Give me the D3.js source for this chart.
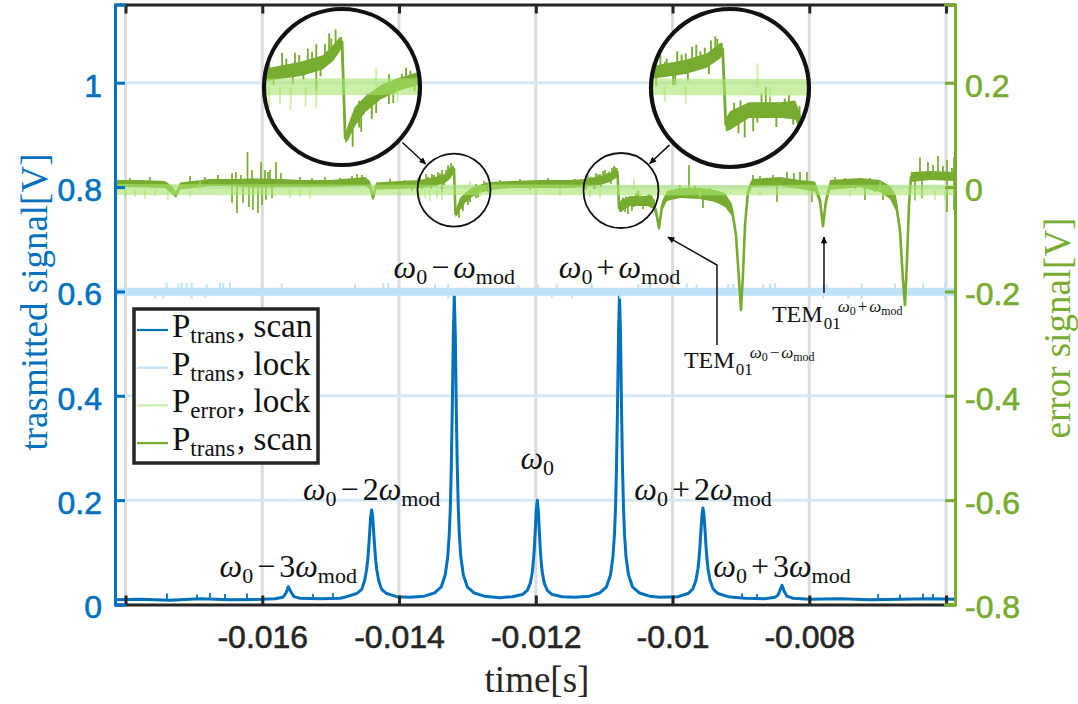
<!DOCTYPE html>
<html>
<head>
<meta charset="utf-8">
<script src="https://cdn.jsdelivr.net/npm/d3@7"></script>
<style>
  body { margin: 0; background: #fff; }
  svg { display: block; }
</style>
</head>
<body>
<svg id="chart" width="1078" height="704"></svg>
<script>
// ---------------- axis ticks ----------------
const timeRange = [-0.018154, -0.005869];
const transRange = [0, 1.15];
const errorRange = [-0.8, 0.35];
const xTicks = [-0.018, -0.016, -0.014, -0.012, -0.010, -0.008, -0.006];
const xTickLabels = ["", "-0.016", "-0.014", "-0.012", "-0.01", "-0.008", ""];
const yLeftTicks = [0, 0.2, 0.4, 0.6, 0.8, 1];
const yLeftTickLabels = ["0", "0.2", "0.4", "0.6", "0.8", "1"];
const yRightTicks = [-0.8, -0.6, -0.4, -0.2, 0, 0.2];
const yRightTickLabels = ["-0.8", "-0.6", "-0.4", "-0.2", "0", "0.2"];

// ---------------- transmitted signal while scanning [time s, V] ----------------
const transScan = [
  [-0.018154,0.009],[-0.017789,0.010],[-0.017350,0.008],[-0.016911,0.011],[-0.016472,0.009],
  [-0.016004,0.010],[-0.015814,0.011],[-0.015697,0.014],[-0.015653,0.022],[-0.015620,0.034],
  [-0.015580,0.024],[-0.015536,0.015],[-0.015449,0.012],[-0.015156,0.011],[-0.014864,0.012],
  [-0.014766,0.015],[-0.014619,0.021],[-0.014546,0.029],[-0.014502,0.046],[-0.014473,0.068],
  [-0.014458,0.085],[-0.014444,0.109],[-0.014429,0.139],[-0.014415,0.168],[-0.014400,0.181],
  [-0.014385,0.168],[-0.014371,0.139],[-0.014356,0.109],[-0.014341,0.085],[-0.014327,0.068],
  [-0.014298,0.046],[-0.014254,0.029],[-0.014181,0.021],[-0.014034,0.015],[-0.013840,0.014],
  [-0.013631,0.016],[-0.013484,0.022],[-0.013382,0.034],[-0.013324,0.057],[-0.013287,0.092],
  [-0.013265,0.136],[-0.013250,0.184],[-0.013236,0.262],[-0.013221,0.376],[-0.013206,0.517],
  [-0.013192,0.591],[-0.013177,0.517],[-0.013163,0.376],[-0.013148,0.262],[-0.013133,0.184],
  [-0.013119,0.136],[-0.013097,0.092],[-0.013060,0.057],[-0.013002,0.034],[-0.012899,0.022],
  [-0.012753,0.016],[-0.012524,0.013],[-0.012344,0.015],[-0.012197,0.019],[-0.012124,0.027],
  [-0.012080,0.041],[-0.012051,0.062],[-0.012037,0.080],[-0.012022,0.106],[-0.012007,0.142],
  [-0.011993,0.181],[-0.011978,0.200],[-0.011963,0.181],[-0.011949,0.142],[-0.011934,0.106],
  [-0.011920,0.080],[-0.011905,0.062],[-0.011876,0.041],[-0.011832,0.027],[-0.011759,0.019],
  [-0.011612,0.015],[-0.011427,0.014],[-0.011215,0.016],[-0.011068,0.022],[-0.010966,0.034],
  [-0.010907,0.057],[-0.010871,0.092],[-0.010849,0.136],[-0.010834,0.184],[-0.010820,0.262],
  [-0.010805,0.376],[-0.010790,0.517],[-0.010776,0.592],[-0.010761,0.517],[-0.010746,0.376],
  [-0.010732,0.262],[-0.010717,0.184],[-0.010703,0.136],[-0.010681,0.092],[-0.010644,0.057],
  [-0.010586,0.034],[-0.010483,0.022],[-0.010337,0.016],[-0.010184,0.014],[-0.009920,0.015],
  [-0.009774,0.021],[-0.009701,0.030],[-0.009657,0.047],[-0.009628,0.069],[-0.009613,0.087],
  [-0.009599,0.112],[-0.009584,0.142],[-0.009569,0.172],[-0.009555,0.185],[-0.009540,0.172],
  [-0.009525,0.142],[-0.009511,0.112],[-0.009496,0.087],[-0.009482,0.069],[-0.009452,0.047],
  [-0.009408,0.030],[-0.009335,0.021],[-0.009189,0.015],[-0.008940,0.012],[-0.008648,0.011],
  [-0.008502,0.014],[-0.008458,0.018],[-0.008429,0.027],[-0.008399,0.037],[-0.008370,0.026],
  [-0.008326,0.016],[-0.008238,0.012],[-0.007990,0.010],[-0.007551,0.011],[-0.007112,0.009],
  [-0.006673,0.010],[-0.006235,0.011],[-0.005869,0.010]
];
// single-sample glitches on the scan trace [time, from, to]
const transScanSpikes = [
  [-0.017394,0.010,0.021],[-0.016955,0.010,0.019],[-0.016765,0.010,0.022],[-0.016546,0.009,0.020],
  [-0.016224,0.010,0.021],[-0.015258,0.011,0.020],[-0.014966,0.012,0.022],[-0.008984,0.012,0.021],
  [-0.008765,0.011,0.020],[-0.006995,0.009,0.020],[-0.006674,0.010,0.019],[-0.006337,0.011,0.021],
  [-0.006191,0.010,0.020]
];

// ---------------- transmitted signal while locked ----------------
const transLock = [[-0.018154,0.5996],[-0.005869,0.5996]];
const transLockSpikes = [
  [-0.017398,0.5996,0.617],[-0.017229,0.5996,0.615],[-0.017179,0.5996,0.617],[-0.017106,0.5996,0.616],
  [-0.017033,0.5996,0.617],[-0.016813,0.5996,0.614],[-0.016619,0.5996,0.617],[-0.016570,0.5996,0.616],
  [-0.016472,0.5996,0.617],[-0.015716,0.5996,0.615],[-0.014644,0.5996,0.614],[-0.014230,0.5996,0.616],
  [-0.014157,0.5996,0.617],[-0.013474,0.5996,0.614],[-0.013280,0.5996,0.615],[-0.012256,0.5996,0.613],
  [-0.011963,0.5996,0.614],[-0.011694,0.5996,0.615],[-0.011182,0.5996,0.615],[-0.010501,0.5996,0.614],
  [-0.010330,0.5996,0.614],[-0.009793,0.5996,0.616],[-0.009647,0.5996,0.614],[-0.009185,0.5996,0.615],
  [-0.009112,0.5996,0.614],[-0.008673,0.5996,0.614],[-0.008575,0.5996,0.615],[-0.008502,0.5996,0.616],
  [-0.007795,0.5996,0.614],[-0.007746,0.5996,0.614],[-0.007234,0.5996,0.615],[-0.006747,0.5996,0.615],
  [-0.006333,0.5996,0.616],[-0.006015,0.5996,0.617],
  [-0.017569,0.5996,0.586],[-0.017448,0.5996,0.587],[-0.017033,0.5996,0.586],[-0.016838,0.5996,0.588],
  [-0.016009,0.5996,0.587],[-0.013280,0.5996,0.586],[-0.011767,0.5996,0.588],[-0.011475,0.5996,0.587],
  [-0.010768,0.5996,0.586],[-0.007795,0.5996,0.586],[-0.007430,0.5996,0.587],[-0.007234,0.5996,0.586],
  [-0.006015,0.5996,0.585]
];

// ---------------- error signal while scanning [time, V, noise half-width] ----------------
const errScan = [
  [-0.018154,0.0069,0.0067],[-0.017789,0.0069,0.0067],[-0.017423,0.0050,0.0067],[-0.017321,-0.0056,0.0077],
  [-0.017262,-0.0151,0.0058],[-0.017204,0.0021,0.0067],[-0.016765,0.0088,0.0067],[-0.016472,0.0088,0.0067],
  [-0.016107,0.0079,0.0086],[-0.015712,0.0079,0.0077],[-0.015449,0.0069,0.0067],[-0.015010,0.0069,0.0067],
  [-0.014644,0.0098,0.0077],[-0.014498,0.0107,0.0086],[-0.014425,0.0040,0.0077],[-0.014381,-0.0209,0.0058],
  [-0.014337,0.0021,0.0067],[-0.013986,0.0040,0.0077],[-0.013694,0.0059,0.0077],[-0.013474,0.0107,0.0086],
  [-0.013328,0.0165,0.0086],[-0.013255,0.0251,0.0096],[-0.013211,0.0328,0.0086],[-0.013196,0.0347,0.0058],
  [-0.013174,-0.0516,0.0058],[-0.013152,-0.0458,0.0096],[-0.013109,-0.0324,0.0115],[-0.013035,-0.0209,0.0096],
  [-0.012933,-0.0104,0.0086],[-0.012816,-0.0036,0.0077],[-0.012670,0.0021,0.0077],[-0.012377,0.0050,0.0067],
  [-0.011939,0.0059,0.0077],[-0.011500,0.0059,0.0077],[-0.011280,0.0079,0.0077],[-0.011061,0.0127,0.0086],
  [-0.010915,0.0184,0.0086],[-0.010827,0.0270,0.0096],[-0.010805,0.0289,0.0077],[-0.010783,-0.0400,0.0077],
  [-0.010754,-0.0362,0.0115],[-0.010622,-0.0266,0.0096],[-0.010403,-0.0266,0.0096],[-0.010301,-0.0266,0.0115],
  [-0.010242,-0.0458,0.0096],[-0.010198,-0.0784,0.0058],[-0.010154,-0.0362,0.0096],[-0.010081,-0.0171,0.0096],
  [-0.009891,-0.0113,0.0096],[-0.009599,-0.0123,0.0105],[-0.009379,-0.0171,0.0115],[-0.009233,-0.0247,0.0134],
  [-0.009130,-0.0439,0.0115],[-0.009072,-0.0918,0.0077],[-0.009028,-0.1781,0.0038],[-0.008999,-0.2356,0.0038],
  [-0.008970,-0.1685,0.0038],[-0.008940,-0.0727,0.0058],[-0.008897,-0.0094,0.0077],[-0.008838,0.0079,0.0077],
  [-0.008429,0.0107,0.0086],[-0.008136,0.0050,0.0086],[-0.007917,0.0012,0.0096],[-0.007844,-0.0247,0.0096],
  [-0.007800,-0.0746,0.0058],[-0.007756,-0.0266,0.0096],[-0.007697,0.0040,0.0096],[-0.007259,0.0088,0.0086],
  [-0.006966,0.0021,0.0115],[-0.006820,-0.0104,0.0125],[-0.006732,-0.0305,0.0153],[-0.006674,-0.0822,0.0096],
  [-0.006630,-0.1781,0.0058],[-0.006600,-0.2260,0.0038],[-0.006571,-0.1397,0.0058],[-0.006542,-0.0343,0.0096],
  [-0.006513,0.0194,0.0096],[-0.006235,0.0222,0.0086],[-0.005869,0.0203,0.0086]
];
// single-sample glitches on the scanned error signal [time, from, to]
const errScanSpikes = [
  [-0.016443,0.0079,0.0270],[-0.016443,0.0079,-0.0305],[-0.016385,0.0079,0.0289],[-0.016370,0.0079,-0.0496],
  [-0.016312,0.0079,0.0232],[-0.016282,0.0079,-0.0305],[-0.016216,0.0079,0.0673],[-0.016195,0.0079,-0.0381],
  [-0.016151,0.0079,0.0328],[-0.016136,0.0079,-0.0439],[-0.016063,0.0079,-0.0496],[-0.016019,0.0079,0.0481],
  [-0.016004,0.0079,-0.0343],[-0.015961,0.0079,0.0328],[-0.015946,0.0079,-0.0247],[-0.015917,0.0079,0.0289],
  [-0.015887,0.0079,0.0328],[-0.015858,0.0079,-0.0209],[-0.015800,0.0079,0.0481],[-0.015727,0.0079,0.0270],
  [-0.014688,0.0098,0.0213],[-0.014615,0.0098,0.0251],[-0.014542,0.0107,0.0232],
  [-0.013694,0.0079,0.0213],[-0.013606,0.0079,0.0251],[-0.013518,0.0100,0.0251],[-0.013430,0.0110,0.0289],
  [-0.013372,0.0130,0.0328],[-0.013372,0.0130,-0.0094],[-0.013284,0.0200,0.0424],[-0.013240,0.0260,0.0462],
  [-0.013123,-0.0324,-0.0592],[-0.013065,-0.0209,-0.0458],[-0.012992,-0.0150,-0.0343],[-0.012875,-0.0056,0.0059],
  [-0.012875,-0.0056,-0.0209],[-0.012758,0.0002,0.0117],[-0.012699,0.0021,-0.0094],
  [-0.013723,0.0059,0.0174],[-0.013664,0.0062,-0.0040],[-0.013577,0.0070,0.0200],[-0.013533,0.0080,-0.0030],
  [-0.013489,0.0095,0.0230],[-0.013460,0.0100,0.0010],[-0.013401,0.0120,0.0260],[-0.013343,0.0150,0.0040],
  [-0.013313,0.0160,0.0330],[-0.013269,0.0200,0.0380],[-0.013079,-0.0290,-0.0420],[-0.013079,-0.0290,-0.0180],
  [-0.013021,-0.0230,-0.0110],[-0.012962,-0.0170,-0.0290],[-0.012904,-0.0125,-0.0020],[-0.012845,-0.0085,-0.0200],
  [-0.012787,-0.0050,0.0060],[-0.012728,-0.0020,0.0090],[-0.012670,0.0015,-0.0080],
  [-0.017935,0.0069,0.0174],[-0.017642,0.0069,0.0194],[-0.017057,0.0088,0.0213],[-0.016838,0.0088,0.0194],
  [-0.016648,0.0088,0.0232],[-0.015449,0.0069,0.0194],[-0.015273,0.0069,0.0174],[-0.015083,0.0069,0.0194],
  [-0.014864,0.0079,0.0174],[-0.014132,0.0040,0.0155],[-0.013913,0.0040,0.0136],[-0.013811,0.0040,-0.0075],
  [-0.012524,0.0050,0.0136],[-0.012231,0.0059,0.0155],[-0.012085,0.0059,-0.0056],[-0.011822,0.0059,0.0174],
  [-0.011646,0.0059,-0.0036],[-0.011427,0.0059,0.0155],
  [-0.011266,0.0080,-0.0050],[-0.011193,0.0085,0.0200],[-0.011149,0.0090,-0.0040],[-0.011090,0.0110,0.0240],
  [-0.011046,0.0120,0.0000],[-0.010929,0.0170,0.0300],[-0.010900,0.0180,0.0060],[-0.010842,0.0230,0.0380],
  [-0.010725,-0.0330,-0.0200],[-0.010681,-0.0310,-0.0180],[-0.010564,-0.0266,-0.0380],[-0.010476,-0.0266,-0.0150],
  [-0.010374,-0.0266,-0.0160],[-0.010315,-0.0270,-0.0400],[-0.010271,-0.0350,-0.0230],
  [-0.011237,0.0079,0.0232],[-0.011207,0.0079,0.0174],[-0.011134,0.0098,-0.0036],[-0.011120,0.0098,0.0270],
  [-0.011061,0.0127,0.0251],[-0.011017,0.0140,0.0309],[-0.010988,0.0150,0.0328],[-0.010959,0.0160,0.0270],
  [-0.010886,0.0200,0.0366],[-0.010856,0.0213,0.0404],[-0.010695,-0.0266,-0.0477],[-0.010652,-0.0266,-0.0516],
  [-0.010593,-0.0266,-0.0458],[-0.010535,-0.0266,-0.0113],[-0.010505,-0.0266,-0.0056],[-0.010432,-0.0266,-0.0420],
  [-0.010345,-0.0266,-0.0132],
  [-0.009891,-0.0113,0.0040],[-0.009759,-0.0113,0.0424],[-0.009672,-0.0113,0.0021],[-0.009555,-0.0123,-0.0400],
  [-0.009452,-0.0150,-0.0017],[-0.009306,-0.0209,-0.0094],[-0.008823,0.0098,0.0232],[-0.008721,0.0107,0.0213],
  [-0.008531,0.0107,0.0232],[-0.008472,0.0107,-0.0286],[-0.008326,0.0098,0.0289],[-0.008224,0.0098,0.0270],
  [-0.008136,0.0050,0.0289],[-0.008034,0.0050,0.0289],[-0.007961,0.0021,-0.0286],[-0.007624,0.0079,0.0194],
  [-0.007478,0.0079,0.0174],[-0.007332,0.0079,-0.0036],[-0.007185,0.0079,-0.0247],[-0.007112,0.0059,0.0174],
  [-0.007039,0.0040,-0.0094],[-0.006922,0.0021,-0.0247],
  [-0.006454,0.0213,-0.0247],[-0.006381,0.0213,0.0577],[-0.006352,0.0213,-0.0209],[-0.006264,0.0213,0.0481],
  [-0.006191,0.0213,0.0424],[-0.006118,0.0213,0.0596],[-0.006045,0.0213,0.0404],[-0.005986,0.0213,0.0519],
  [-0.005986,0.0213,-0.0477],[-0.005913,0.0213,0.0366],[-0.005884,0.0213,0.0577],[-0.005884,0.0213,-0.0439]
];

// ---------------- error signal while locked [time, V, noise half-width] ----------------
const errLock = [
  [-0.018154,-0.0045,0.0105],[-0.016000,-0.0050,0.0105],[-0.014000,-0.0056,0.0100],[-0.012000,-0.0050,0.0100],
  [-0.010000,-0.0060,0.0100],[-0.008000,-0.0056,0.0100],[-0.005869,-0.0056,0.0100]
];
const errLockSpikes = [
  [-0.018008,-0.0050,-0.0209],[-0.017862,-0.0050,-0.0190],[-0.017716,-0.0050,-0.0228],[-0.017569,-0.0050,-0.0171],
  [-0.017379,-0.0050,-0.0247],[-0.017057,-0.0050,-0.0190],[-0.016911,-0.0050,0.0136],[-0.015595,-0.0050,-0.0209],
  [-0.015449,-0.0050,-0.0190],[-0.015302,-0.0050,-0.0228],[-0.013694,-0.0056,-0.0247],[-0.013620,-0.0056,-0.0209],
  [-0.013547,-0.0056,-0.0266],[-0.013445,-0.0056,-0.0228],[-0.013372,-0.0056,-0.0247],[-0.012962,-0.0056,0.0117],
  [-0.012816,-0.0056,-0.0190],[-0.011646,-0.0050,-0.0171],[-0.011207,-0.0050,-0.0190],[-0.011061,-0.0050,-0.0209],
  [-0.010564,-0.0060,0.0160],[-0.010476,-0.0060,-0.0190],[-0.009599,-0.0060,-0.0209],[-0.008721,-0.0056,-0.0171],
  [-0.007405,-0.0056,-0.0190],[-0.006966,-0.0056,0.0117],[-0.006454,-0.0056,-0.0266],[-0.006352,-0.0056,-0.0228],
  [-0.006162,-0.0056,-0.0247],[-0.006015,-0.0056,-0.0266]
];

// ---------------- sideband labels ----------------
const peakTimes = [-0.015620, -0.014400, -0.013192, -0.011978, -0.010776, -0.009555, -0.008399];
const peakLabelLevels = [0.0527, 0.2003, 0.6258, 0.2597, 0.6258, 0.2003, 0.0527];
const peakSigns = ["\u2212", "\u2212", "\u2212", "", "+", "+", "+"];
const peakOrders = ["3", "2", "", "", "", "2", "3"];

// ---------------- legend ----------------
const legendSubs = ["trans", "trans", "error", "trans"];
const legendModes = ["scan", "lock", "lock", "scan"];

// ---------------- styling ----------------
const blue = "#0072BD", lightBlue = "#bfe3fa", darkGreen = "#77AC30";
const lightGreen = "#a8e46c", lightGreenOpacity = 0.6;
const axisBlack = "#262626";
const serif = "'Liberation Serif','Times New Roman',serif";
const sans = "'Liberation Sans',Arial,Helvetica,sans-serif";
const legendColors = [blue, lightBlue, "#cbefa7", darkGreen];

const svg = d3.select("#chart");
const plot = { left: 115, right: 955, top: 4.5, bottom: 604.5 };

const x = d3.scaleLinear().domain(timeRange).range([plot.left, plot.right]);
const yL = d3.scaleLinear().domain(transRange).range([plot.bottom, plot.top]);
const yR = d3.scaleLinear().domain(errorRange).range([plot.bottom, plot.top]);

// arrow heads
const defs = svg.append("defs");
defs.append("marker").attr("id", "head")
  .attr("viewBox", "0 0 10 10").attr("refX", 9).attr("refY", 5)
  .attr("markerWidth", 8).attr("markerHeight", 7).attr("markerUnits", "userSpaceOnUse")
  .attr("orient", "auto")
  .append("path").attr("d", "M0,0.5 L10,5 L0,9.5 Z").attr("fill", "#000");

// vertical grid
svg.append("g").selectAll("line").data(xTicks).join("line")
  .attr("x1", d => x(d)).attr("x2", d => x(d))
  .attr("y1", plot.top).attr("y2", plot.bottom)
  .attr("stroke", "#dcdcdc").attr("stroke-width", 3);

// zoom insets: where they sit and what they magnify
const insets = [
  { src: [-0.013196, -0.0056], r: 36.5, dst: [-0.014834, 0.1919], R: 78 },
  { src: [-0.010754, -0.0065], r: 37.5, dst: [-0.009160, 0.1900], R: 79 }
];
insets.forEach(d => {
  d.sx = x(d.src[0]); d.sy = yR(d.src[1]);
  d.bx = x(d.dst[0]); d.by = yR(d.dst[1]);
  d.k = d.R / d.r;
});
svg.append("g").selectAll("circle").data(insets).join("circle")
  .attr("cx", d => d.bx).attr("cy", d => d.by).attr("r", d => d.R).attr("fill", "#fff");

// horizontal grid (left axis)
svg.append("g").selectAll("line").data(yLeftTicks.filter(d => d > 0)).join("line")
  .attr("x1", plot.left).attr("x2", plot.right)
  .attr("y1", d => yL(d)).attr("y2", d => yL(d))
  .attr("stroke", "#d6e8f4").attr("stroke-width", 3);

// ---- series drawing, reusable for the magnified views ----
function drawSpikes(g, data, fx, fy, color, width, opacity) {
  g.append("g").selectAll("line").data(data).join("line")
    .attr("x1", d => fx(d[0])).attr("x2", d => fx(d[0]))
    .attr("y1", d => fy(d[1])).attr("y2", d => fy(d[2]))
    .attr("stroke", color).attr("stroke-width", width)
    .attr("stroke-opacity", opacity == null ? 1 : opacity);
}
function drawError(g, fx, fy, scale, bandScale) {
  const band = d3.area().x(d => fx(d[0]))
    .y0(d => fy(d[1] - d[2] * bandScale)).y1(d => fy(d[1] + d[2] * bandScale));
  const line = d3.line().x(d => fx(d[0])).y(d => fy(d[1]));
  g.append("path").datum(errScan).attr("d", band).attr("fill", darkGreen);
  g.append("path").datum(errScan).attr("d", line).attr("fill", "none")
    .attr("stroke", darkGreen).attr("stroke-width", 2.6 * scale).attr("stroke-linejoin", "round");
  drawSpikes(g, errScanSpikes, fx, fy, darkGreen, 1.7 * scale);
  g.append("path").datum(errLock).attr("d", band).attr("fill", lightGreen).attr("fill-opacity", lightGreenOpacity);
  drawSpikes(g, errLockSpikes, fx, fy, lightGreen, 1.7 * scale, lightGreenOpacity);
}

// transmitted signal, scan
const main = svg.append("g");
main.append("path").datum(transScan)
  .attr("d", d3.line().x(d => x(d[0])).y(d => yL(d[1])))
  .attr("fill", "none").attr("stroke", blue).attr("stroke-width", 3).attr("stroke-linejoin", "round");
drawSpikes(main, transScanSpikes, x, yL, blue, 1.8);

// transmitted signal, locked
main.append("path").datum(transLock)
  .attr("d", d3.line().x(d => x(d[0])).y(d => yL(d[1])))
  .attr("fill", "none").attr("stroke", lightBlue).attr("stroke-width", 8);
drawSpikes(main, transLockSpikes, x, yL, lightBlue, 2);

// error signals
drawError(main, x, yR, 1, 1);

// magnified views
insets.forEach((d, i) => {
  const id = "clip" + i;
  defs.append("clipPath").attr("id", id)
    .append("circle").attr("cx", d.bx).attr("cy", d.by).attr("r", d.R);
  const g = svg.append("g").attr("clip-path", `url(#${id})`);
  const fx = t => d.bx + (x(t) - d.sx) * d.k;
  const fy = v => d.by + (yR(v) - d.sy) * d.k;
  drawError(g, fx, fy, 1.1, 0.75);
});

// circles and connectors
const ann = svg.append("g");
insets.forEach(d => {
  ann.append("circle").attr("cx", d.sx).attr("cy", d.sy).attr("r", d.r)
    .attr("fill", "none").attr("stroke", "#111").attr("stroke-width", 1.8);
  ann.append("circle").attr("cx", d.bx).attr("cy", d.by).attr("r", d.R)
    .attr("fill", "none").attr("stroke", "#111").attr("stroke-width", 4.2);
  const dx = d.sx - d.bx, dy = d.sy - d.by, L = Math.hypot(dx, dy);
  const ux = dx / L, uy = dy / L;
  ann.append("line")
    .attr("x1", d.bx + ux * (d.R + 4)).attr("y1", d.by + uy * (d.R + 4))
    .attr("x2", d.sx - ux * (d.r + 2)).attr("y2", d.sy - uy * (d.r + 2))
    .attr("stroke", "#111").attr("stroke-width", 1.5).attr("marker-end", "url(#head)");
});

// ---- math-like text helper ----
function addMath(textSel, segs) {
  let cur = 0;
  segs.forEach(s => {
    const ts = textSel.append("tspan").text(s.t)
      .attr("font-size", s.fs).attr("dy", (s.sh || 0) - cur);
    if (s.it) ts.attr("font-style", "italic");
    if (s.dx) ts.attr("dx", s.dx);
    cur = s.sh || 0;
  });
}
function peakSegs(sign, order) {
  const s = [{ t: "\u03c9", it: 1, fs: 32 }, { t: "0", fs: 22, sh: 6 }];
  if (sign) {
    s.push({ t: sign, fs: 32, dx: 4 });
    if (order) s.push({ t: order, fs: 32, dx: 4 });
    s.push({ t: "\u03c9", it: 1, fs: 32, dx: order ? 0 : 4 });
    s.push({ t: "mod", fs: 22, sh: 6 });
  }
  return s;
}

// sideband labels
peakTimes.forEach((t, i) => {
  const txt = svg.append("text")
    .attr("x", x(t)).attr("y", yL(peakLabelLevels[i]))
    .attr("text-anchor", "middle").attr("font-family", serif).attr("fill", "#111");
  addMath(txt, peakSegs(peakSigns[i], peakOrders[i]));
});

// TEM01 mode labels with pointers
const temLabels = [
  { sign: "\u2212", at: [-0.009833, -0.3468],
    path: [[-0.009350, -0.3027], [-0.009350, -0.1493], [-0.010067, -0.0957]] },
  { sign: "+", at: [-0.008546, -0.2580],
    path: [[-0.007785, -0.2030], [-0.007785, -0.0957]] }
];
temLabels.forEach(d => {
  svg.append("path").datum(d.path)
    .attr("d", d3.line().x(p => x(p[0])).y(p => yR(p[1])))
    .attr("fill", "none").attr("stroke", "#111").attr("stroke-width", 1.5)
    .attr("marker-end", "url(#head)");
  const txt = svg.append("text").attr("x", x(d.at[0])).attr("y", yR(d.at[1]))
    .attr("font-family", serif).attr("fill", "#111");
  addMath(txt, [
    { t: "TEM", fs: 24 },
    { t: "01", fs: 17, sh: 7, dx: 1 },
    { t: "\u03c9", it: 1, fs: 17, sh: -10, dx: -3 },
    { t: "0", fs: 12, sh: -7 },
    { t: d.sign, fs: 17, sh: -10, dx: 2 },
    { t: "\u03c9", it: 1, fs: 17, sh: -10, dx: 2 },
    { t: "mod", fs: 12, sh: -7 }
  ]);
});

// ---- axes ----
function styleAxis(g, color, size) {
  g.attr("font-family", sans).attr("font-size", size);
  g.select(".domain").attr("stroke", color).attr("stroke-width", 3);
  g.selectAll(".tick line").attr("stroke", color).attr("stroke-width", 3);
  g.selectAll(".tick text").attr("fill", color)
    .attr("stroke", color).attr("stroke-width", 0.6);
}
const gx = svg.append("g").attr("transform", `translate(0,${plot.bottom})`)
  .call(d3.axisBottom(x).tickValues(xTicks).tickFormat((d, i) => xTickLabels[i])
    .tickSizeInner(-9).tickSizeOuter(0).tickPadding(21));
styleAxis(gx, axisBlack, 32);
const gxTop = svg.append("g").attr("transform", `translate(0,${plot.top})`)
  .call(d3.axisTop(x).tickValues(xTicks).tickFormat(() => "")
    .tickSizeInner(-9).tickSizeOuter(0));
styleAxis(gxTop, axisBlack, 32);

const gl = svg.append("g").attr("transform", `translate(${plot.left},0)`)
  .call(d3.axisLeft(yL).tickValues(yLeftTicks).tickFormat((d, i) => yLeftTickLabels[i])
    .tickSizeInner(-10).tickSizeOuter(-11).tickPadding(13));
styleAxis(gl, blue, 32);
gl.selectAll(".tick text").attr("dy", "0.42em");

const gr = svg.append("g").attr("transform", `translate(${plot.right},0)`)
  .call(d3.axisRight(yR).tickValues(yRightTicks).tickFormat((d, i) => yRightTickLabels[i])
    .tickSizeInner(-10).tickSizeOuter(-11).tickPadding(10));
styleAxis(gr, darkGreen, 32);
gr.selectAll(".tick text").attr("dy", "0.42em");

// axis titles
svg.append("text").attr("x", 537).attr("y", 692).attr("text-anchor", "middle")
  .attr("font-family", serif).attr("font-size", 37).attr("fill", axisBlack).text("time[s]");
svg.append("text").attr("transform", "translate(47,302) rotate(-90)").attr("text-anchor", "middle")
  .attr("font-family", serif).attr("font-size", 37).attr("fill", blue).text("trasmitted signal[V]");
svg.append("text").attr("transform", "translate(1070,328) rotate(-90)").attr("text-anchor", "middle")
  .attr("font-family", serif).attr("font-size", 37).attr("fill", darkGreen).text("error signal[V]");

// ---- legend ----
const leg = svg.append("g");
leg.append("rect").attr("x", 134).attr("y", 309).attr("width", 184).attr("height", 154)
  .attr("fill", "#fff").attr("stroke", axisBlack).attr("stroke-width", 3.5);
legendSubs.forEach((sub, i) => {
  const yRow = 330 + i * 37.7;
  leg.append("line").attr("x1", 137).attr("x2", 168).attr("y1", yRow).attr("y2", yRow)
    .attr("stroke", legendColors[i]).attr("stroke-width", 2.2);
  const txt = leg.append("text").attr("x", 172).attr("y", yRow + 7)
    .attr("font-family", serif).attr("fill", "#111");
  addMath(txt, [
    { t: "P", fs: 33 },
    { t: sub, fs: 23, sh: 6 },
    { t: ",", fs: 33, sh: 0, dx: 2 },
    { t: " " + legendModes[i], fs: 33 }
  ]);
});
</script>
</body>
</html>
